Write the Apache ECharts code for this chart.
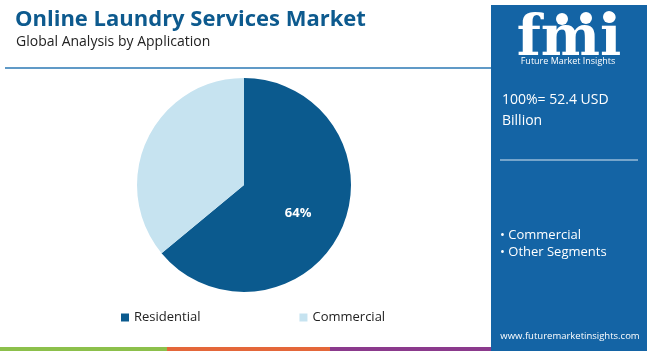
<!DOCTYPE html>
<html>
<head>
<meta charset="utf-8">
<script src="https://cdn.jsdelivr.net/npm/echarts@6/dist/echarts.min.js"></script>
<style>
  html, body { margin: 0; padding: 0; background: #fff; }
  #chart { width: 650px; height: 351px; }
</style>
</head>
<body>
<div id="chart"></div>
<script>
// data
const categories = ['Residential', 'Commercial']
const shares = [64, 36]
const colors = ['#0b5a8e', '#c6e3f0']
const panelNotes = ['• Commercial', '• Other Segments']

const font = '"Open Sans", "Noto Sans", sans-serif'

const chart = echarts.init(document.getElementById('chart'), null, { renderer: 'canvas' })

const pieData = categories.map((name, i) => ({
  name,
  value: shares[i],
  itemStyle: { color: colors[i] },
  label: { show: i === 0 },
}))

chart.setOption({
  animation: false,
  title: [
    {
      text: 'Online Laundry Services Market',
      left: 10,
      top: 4,
      textStyle: { fontFamily: font, fontSize: 22, fontWeight: 'bold', color: '#0d5a8e' },
    },
    {
      text: 'Global Analysis by Application',
      left: 11,
      top: 30,
      textStyle: { fontFamily: font, fontSize: 14, fontWeight: 'normal', color: '#222' },
    },
  ],
  legend: {
    bottom: 22,
    left: 116,
    itemGap: 99,
    icon: 'rect',
    itemWidth: 8,
    itemHeight: 8,
    textStyle: { fontFamily: font, fontSize: 13, color: '#222' },
    data: categories,
  },
  series: [
    {
      type: 'pie',
      center: [244, 185],
      radius: [0, 107],
      startAngle: 90,
      clockwise: true,
      data: pieData,
      label: {
        position: 'inside',
        formatter: '{d}%',
        color: '#fff',
        fontFamily: font,
        fontSize: 13,
        fontWeight: 'bold',
        offset: [3, 4],
      },
      labelLine: { show: false },
      emphasis: { disabled: true },
    },
  ],
  graphic: [
    // title rule
    { type: 'line', shape: { x1: 5, y1: 68, x2: 492, y2: 68 }, style: { stroke: '#2b78b4', lineWidth: 1.5 } },
    // bottom colour strip
    { type: 'rect', shape: { x: 0, y: 347, width: 167, height: 4 }, style: { fill: '#8cc04b' } },
    { type: 'rect', shape: { x: 167, y: 347, width: 163, height: 4 }, style: { fill: '#e4673a' } },
    { type: 'rect', shape: { x: 330, y: 347, width: 163, height: 4 }, style: { fill: '#8b3a8c' } },
    // right panel
    { type: 'rect', shape: { x: 491, y: 5, width: 156, height: 346 }, style: { fill: '#1464a5' } },
    {
      type: 'text', x: 569, y: 40,
      style: { text: 'fmi', fill: '#fff', font: 'bold 56px "DejaVu Serif", serif', textAlign: 'center', textVerticalAlign: 'middle' },
    },
    { type: 'circle', shape: { cx: 562, cy: 19, r: 6 }, style: { fill: '#fff' } },
    { type: 'circle', shape: { cx: 586, cy: 18, r: 6 }, style: { fill: '#fff' } },
    { type: 'circle', shape: { cx: 609, cy: 17, r: 6 }, style: { fill: '#fff' } },
    {
      type: 'text', x: 568, y: 61,
      style: { text: 'Future Market Insights', fill: '#fff', font: '9px ' + font, textAlign: 'center', textVerticalAlign: 'middle' },
    },
    {
      type: 'text', x: 502, y: 100,
      style: { text: '100%= 52.4 USD', fill: '#fff', font: '14px ' + font, textVerticalAlign: 'middle' },
    },
    {
      type: 'text', x: 502, y: 121,
      style: { text: 'Billion', fill: '#fff', font: '14px ' + font, textVerticalAlign: 'middle' },
    },
    { type: 'line', shape: { x1: 500, y1: 160, x2: 638, y2: 160 }, style: { stroke: '#d8e6f2', lineWidth: 1 } },
    {
      type: 'text', x: 500, y: 235,
      style: { text: panelNotes[0], fill: '#fff', font: '13px ' + font, textVerticalAlign: 'middle' },
    },
    {
      type: 'text', x: 500, y: 252,
      style: { text: panelNotes[1], fill: '#fff', font: '13px ' + font, textVerticalAlign: 'middle' },
    },
    {
      type: 'text', x: 570, y: 336,
      style: { text: 'www.futuremarketinsights.com', fill: '#fff', font: '9.5px ' + font, textAlign: 'center', textVerticalAlign: 'middle' },
    },
  ],
})
</script>
</body>
</html>
